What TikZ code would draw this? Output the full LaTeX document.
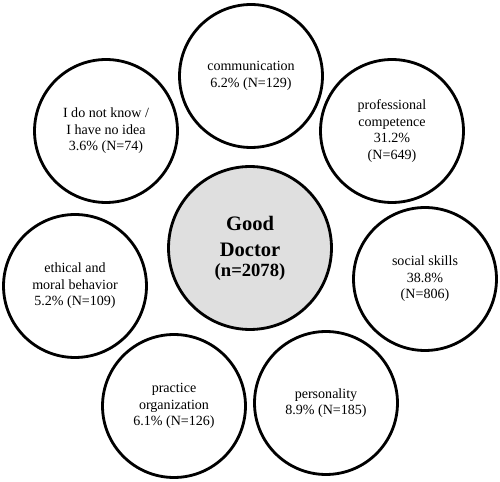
\documentclass[tikz,border=0pt]{standalone}
\usepackage{fontspec}
\setmainfont{Liberation Serif}
\begin{document}
\begin{tikzpicture}[x=0.02cm, y=-0.02cm,
  bubble/.style={draw, circle, line width=1.6pt, inner sep=0pt, minimum size=2.86cm,
    align=center, font=\fontsize{8}{9.4}\selectfont},
  core/.style={bubble, fill=gray!25, minimum size=3.26cm,
    font=\bfseries\fontsize{11.7}{14.8}\selectfont}]
\useasboundingbox (0,0) rectangle (500,482);
% centre
\node[core] (gd) at (250,248) {Good\\Doctor\\[-3.4pt]{\fontsize{10.6}{12}\selectfont (n=2078)}};
% categories, clockwise from the top
\node[bubble] (comm) at (251,76) {communication\\6.2\% (N=129)};
\node[bubble] (prof) at (392,131) {professional\\competence\\31.2\%\\(N=649)};
\node[bubble] (social) at (425,279) {social skills\\38.8\%\\(N=806)};
\node[bubble] (person) at (326,403) {personality\\8.9\% (N=185)};
\node[bubble] (practice) at (174,406) {practice\\organization\\6.1\% (N=126)};
\node[bubble] (ethic) at (75,286) {ethical and\\moral behavior\\5.2\% (N=109)};
\node[bubble] (idk) at (106,131) {I do not know /\\I have no idea\\3.6\% (N=74)};
\end{tikzpicture}
\end{document}
